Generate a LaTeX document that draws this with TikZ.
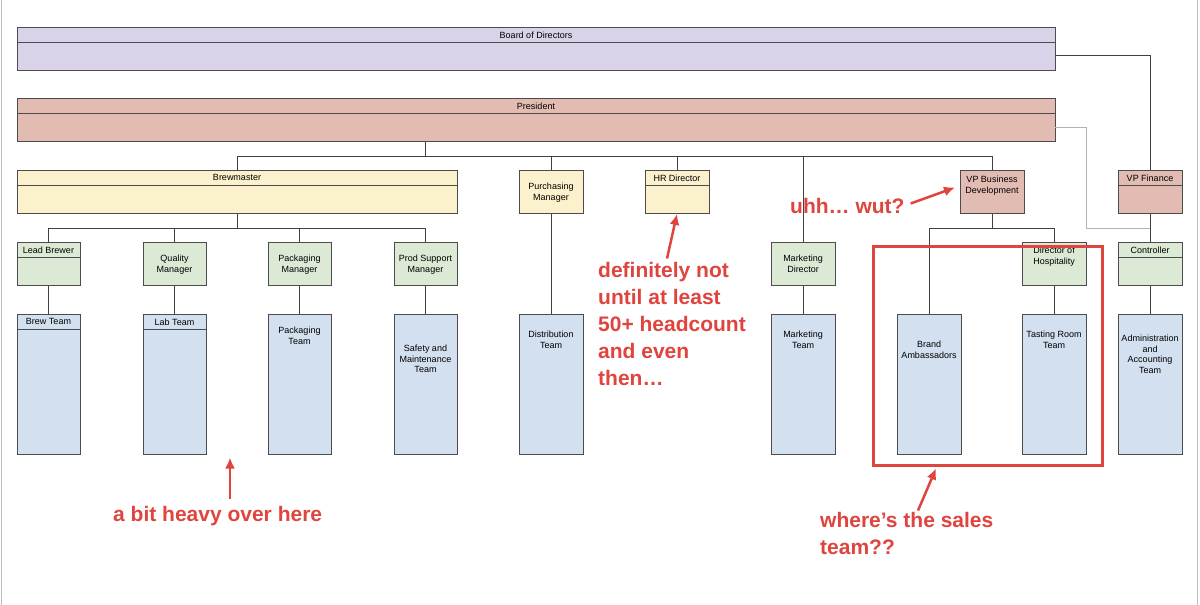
\documentclass[tikz,border=0pt]{standalone}
\usepackage{fontspec}
\setmainfont{Liberation Sans}
\usetikzlibrary{fit,positioning,arrows.meta}
\definecolor{boardc}{HTML}{D9D2E9}
\definecolor{presc}{HTML}{E2BCB2}
\definecolor{brewc}{HTML}{FCF1CD}
\definecolor{mgrc}{HTML}{DCE9D5}
\definecolor{teamc}{HTML}{D2E0F0}
\definecolor{notec}{HTML}{E0443E}
\begin{document}
\begin{tikzpicture}[x=1pt, y=-1pt,
  box/.style = {draw=black!70, line width=0.8pt, inner sep=0pt},
  ttl/.style = {font=\fontsize{9}{10.5}\selectfont, align=center, inner sep=0pt},
  hdr/.style = {path picture={\draw[black!70, line width=0.8pt]
      ([yshift=-15pt]path picture bounding box.north west) --
      ([yshift=-15pt]path picture bounding box.north east);}},
  hlab/.style = {label={[ttl, anchor=north, yshift=-4.5pt]north:#1}},
  mlab/.style 2 args = {label={[ttl, anchor=north, yshift=-#1]north:#2}},
  link/.style = {draw=black!75, line width=0.7pt},
  note/.style = {text=notec, font=\fontsize{21}{27}\selectfont\bfseries, align=left, inner sep=0pt},
  pointer/.style = {draw=notec, line width=2.5pt, -{Latex[length=11pt,width=10pt]}}]
\fill[white] (0,0) rectangle (1200,604);
\draw[black!25, line width=1pt] (1.5,0) -- (1.5,604) (1197.5,0) -- (1197.5,604);
% top levels
\node[box, fill=boardc, hdr, hlab={Board of Directors}, fit={(17,27) (1055,70)}] (board) {};
\node[box, fill=presc, hdr, hlab={President}, fit={(17,98) (1055,141)}] (pres) {};
\node[box, fill=brewc, hdr, hlab={Brewmaster}, fit={(17,170) (457,213)}] (brew) {};
\node[box, fill=brewc, mlab={13pt}{Purchasing\\Manager}, fit={(519,170) (583,213)}] (purch) {};
\node[box, fill=brewc, hdr, hlab={HR Director}, fit={(645,170) (709,213)}] (hr) {};
\node[box, fill=presc, mlab={6pt}{VP Business\\Development}, fit={(960,170) (1024,213)}] (vpbd) {};
\node[box, fill=presc, hdr, hlab={VP Finance}, fit={(1118,170) (1182,213)}] (vpfin) {};
% managers
\node[box, fill=mgrc, hdr, hlab={Lead Brewer}, fit={(17,242) (80,285)}] (lead) {};
\node[box, fill=mgrc, mlab={13pt}{Quality\\Manager}, fit={(143,242) (206,285)}] (qual) {};
\node[box, fill=mgrc, mlab={13pt}{Packaging\\Manager}, fit={(268,242) (331,285)}] (pack) {};
\node[box, fill=mgrc, mlab={13pt}{Prod Support\\Manager}, fit={(394,242) (457,285)}] (prod) {};
\node[box, fill=mgrc, mlab={13pt}{Marketing\\Director}, fit={(771,242) (835,285)}] (mkt) {};
\node[box, fill=mgrc, mlab={5pt}{Director of\\Hospitality}, fit={(1022,242) (1086,285)}] (hosp) {};
\node[box, fill=mgrc, hdr, hlab={Controller}, fit={(1118,242) (1182,285)}] (ctrl) {};
% teams
\node[box, fill=teamc, hdr, hlab={Brew Team}, fit={(17,314) (80,454)}] (brewt) {};
\node[box, fill=teamc, hdr, hlab={Lab Team}, fit={(143,314) (206,454)}] (labt) {};
\node[box, fill=teamc, mlab={13pt}{Packaging\\Team}, fit={(268,314) (331,454)}] (packt) {};
\node[box, fill=teamc, mlab={31pt}{Safety and\\Maintenance\\Team}, fit={(394,314) (457,454)}] (safet) {};
\node[box, fill=teamc, mlab={17pt}{Distribution\\Team}, fit={(519,314) (583,454)}] (dist) {};
\node[box, fill=teamc, mlab={17pt}{Marketing\\Team}, fit={(771,314) (835,454)}] (mktt) {};
\node[box, fill=teamc, mlab={27pt}{Brand\\Ambassadors}, fit={(897,314) (961,454)}] (brand) {};
\node[box, fill=teamc, mlab={17pt}{Tasting Room\\Team}, fit={(1022,314) (1086,454)}] (tast) {};
\node[box, fill=teamc, mlab={21pt}{Administration\\and\\Accounting\\Team}, fit={(1118,314) (1182,454)}] (admt) {};
% connectors
\coordinate (pb) at (425,156);
\coordinate (bb) at (237,228);
\coordinate (vb) at (992,228);
\path[link] (pres.south -| pb) -- (pb);
\path[link] (brew.north) |- (pb) -| (vpbd.north);
\path[link] (purch.north) -- (purch.north |- pb);
\path[link] (hr.north) -- (hr.north |- pb);
\path[link] (mkt.north) -- (mkt.north |- pb);
\path[link] (brew.south) -- (bb);
\path[link] (lead.north) |- (bb) -| (prod.north);
\path[link] (qual.north) -- (qual.north |- bb);
\path[link] (pack.north) -- (pack.north |- bb);
\path[link] (vpbd.south) -- (vb);
\path[link] (brand.north) |- (vb) -| (hosp.north);
\path[link] (board.east |- 0,55) -| (vpfin.north);
\path[link, draw=black!30] (pres.east |- 0,127) -| (1086,228) -- (1150,228);
\path[link] (vpfin.south) -- (ctrl.north);
\foreach \m/\t in {lead/brewt, qual/labt, pack/packt, prod/safet, purch/dist, mkt/mktt, hosp/tast, ctrl/admt}
  \path[link] (\m.south) -- (\t.north);
% notes
\draw[notec, line width=3pt] (873,246) rectangle (1102,465);
\node[note, anchor=west] (wut) at (790,205) {uhh… wut?};
\draw[pointer] ([xshift=6pt,yshift=2pt]wut.east) -- (955,187);
\node[note, anchor=north west] (hrn) at (598,262) {definitely not\\until at least\\50+ headcount\\and even\\then…};
\draw[pointer] (667,258) -- (hr.south);
\node[note, anchor=west] (heavy) at (113,516) {a bit heavy over here};
\draw[pointer] (230,498) -- (230,457);
\node[note, anchor=north west] (sales) at (820,512) {where’s the sales\\team??};
\draw[pointer] (918,510) -- (936,468);
\end{tikzpicture}
\end{document}
